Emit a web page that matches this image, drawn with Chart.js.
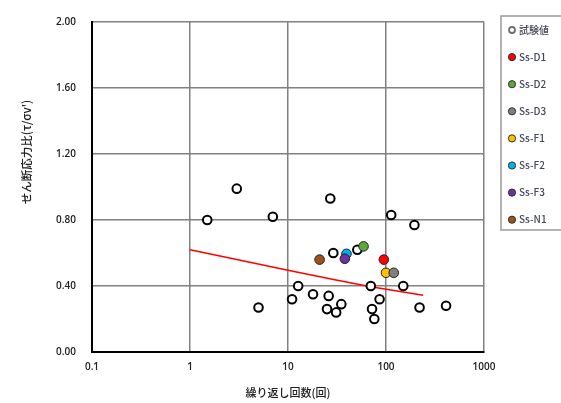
<!DOCTYPE html>
<html>
<head>
<meta charset="utf-8">
<script src="https://cdn.jsdelivr.net/npm/chart.js@4"></script>
<style>
  body { margin: 0; background: #fff; }
  #wrap { width: 561px; height: 403px; }
</style>
</head>
<body>
<div id="wrap"><canvas id="fatigueChart" width="561" height="403"></canvas></div>
<script>
// 試験値 (open circles)
const testCycles = [1.5, 3, 7, 5, 27, 12.7, 11, 18, 26, 25, 31, 35, 29, 51, 70, 72, 76, 86, 113, 150, 195, 220, 410];
const testRatio  = [0.80, 0.99, 0.82, 0.27, 0.93, 0.40, 0.32, 0.35, 0.34, 0.26, 0.24, 0.29, 0.60, 0.62, 0.40, 0.26, 0.20, 0.32, 0.83, 0.40, 0.77, 0.27, 0.28];

// 地震動ケース
const caseNames  = ['Ss-D1', 'Ss-D2', 'Ss-D3', 'Ss-F1', 'Ss-F2', 'Ss-F3', 'Ss-N1'];
const caseCycles = [95, 59, 120, 100, 39.5, 38, 21];
const caseRatio  = [0.56, 0.64, 0.48, 0.48, 0.595, 0.565, 0.56];
const caseColors = ['#ff0000', '#5da83a', '#808080', '#ffc000', '#00b0f0', '#7030a0', '#a0501a'];

// 近似線
const fitCycles = [1, 3, 10, 30, 70, 240];
const fitRatio  = [0.62, 0.56, 0.495, 0.438, 0.395, 0.344];

const xTicks = [0.1, 1, 10, 100, 1000];
const yTicks = [0, 0.4, 0.8, 1.2, 1.6, 2.0];

const toPoints = (xs, ys) => xs.map((x, i) => ({ x: x, y: ys[i] }));

const datasets = [{
    label: '試験値',
    data: toPoints(testCycles, testRatio),
    backgroundColor: '#ffffff',
    borderColor: '#000000',
    borderWidth: 2,
    pointRadius: 4.3,
    order: 1
}];
caseNames.forEach((name, i) => {
    datasets.push({
        label: name,
        data: [{ x: caseCycles[i], y: caseRatio[i] }],
        backgroundColor: caseColors[i],
        borderColor: '#202020',
        borderWidth: 1,
        pointRadius: 4.8,
        order: name === 'Ss-F3' ? -1 : 0
    });
});
datasets.push({
    type: 'line',
    label: 'fit',
    data: toPoints(fitCycles, fitRatio),
    borderColor: '#ff0000',
    borderWidth: 1.5,
    pointRadius: 0,
    fill: false,
    tension: 0,
    order: 5
});

// Legend box + y title drawn by hand
const customDraw = {
    id: 'customDraw',
    afterDraw(chart) {
        const ctx = chart.ctx;
        ctx.save();
        // legend frame
        ctx.strokeStyle = '#9a9a9a';
        ctx.lineWidth = 1.5;
        ctx.strokeRect(501, 16, 80, 214);
        ctx.textBaseline = 'middle';
        ctx.font = '500 10px "Noto Sans CJK JP", "Noto Sans"';
        const items = chart.data.datasets.filter(d => d.label !== 'fit');
        items.forEach((d, i) => {
            const y = 30 + i * 27.1;
            ctx.beginPath();
            ctx.arc(512, y, i === 0 ? 3 : 3.6, 0, Math.PI * 2);
            ctx.fillStyle = d.backgroundColor;
            ctx.fill();
            ctx.lineWidth = i === 0 ? 1.8 : 1;
            ctx.strokeStyle = i === 0 ? '#707070' : '#303030';
            ctx.stroke();
            ctx.fillStyle = '#44485a';
            ctx.fillText(d.label, 519, y);
        });
        // y axis title
        ctx.translate(27, 152);
        ctx.rotate(-Math.PI / 2);
        ctx.textAlign = 'center';
        ctx.fillStyle = '#202020';
        ctx.font = '500 11.5px "Noto Sans CJK JP"';
        ctx.fillText("せん断応力比(τ/σv')", 0, 0);
        ctx.restore();
    }
};

const ctx = document.getElementById('fatigueChart').getContext('2d');
new Chart(ctx, {
    type: 'scatter',
    data: { datasets: datasets },
    options: {
        responsive: false,
        animation: false,
        layout: { padding: { left: 0, right: 77, top: 17, bottom: 4 } },
        plugins: {
            legend: { display: false },
            tooltip: { enabled: false }
        },
        scales: {
            x: {
                type: 'logarithmic',
                min: 0.1,
                max: 1000,
                afterBuildTicks: function (scale) {
                    scale.ticks = xTicks.map(v => ({ value: v }));
                },
                afterFit: function (scale) { scale.height = 47; },
                ticks: {
                    padding: 9,
                    color: '#202020',
                    font: { size: 10, family: 'Open Sans', weight: '600' },
                    callback: function (value) { return String(value); }
                },
                grid: { color: '#808080', lineWidth: 1.5, drawTicks: false },
                border: { color: '#000000', width: 2 },
                title: {
                    display: true,
                    text: '繰り返し回数(回)',
                    color: '#202020',
                    font: { size: 11, family: 'Noto Sans CJK JP', weight: '500' },
                    padding: { top: 4, bottom: 0 }
                }
            },
            y: {
                min: 0,
                max: 2,
                afterBuildTicks: function (scale) {
                    scale.ticks = yTicks.map(v => ({ value: v }));
                },
                afterFit: function (scale) { scale.width = 92; },
                ticks: {
                    padding: 16,
                    color: '#202020',
                    font: { size: 10, family: 'Open Sans', weight: '600' },
                    callback: function (value) { return value.toFixed(2); }
                },
                grid: { color: '#808080', lineWidth: 1.5, drawTicks: false },
                border: { color: '#000000', width: 2 }
            }
        }
    },
    plugins: [customDraw]
});
</script>
</body>
</html>
